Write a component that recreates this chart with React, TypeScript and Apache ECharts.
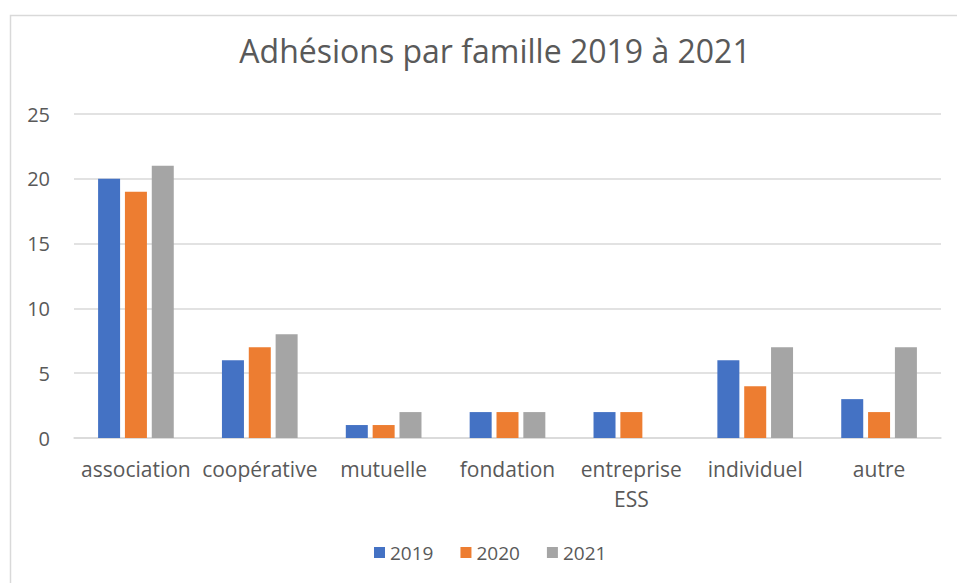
import React, { useEffect, useRef } from "react";
import * as echarts from "echarts";

const categories = ["association", "coopérative", "mutuelle", "fondation", "entreprise\nESS", "individuel", "autre"];
const seriesNames = ["2019", "2020", "2021"];
const values2019 = [20, 6, 1, 2, 2, 6, 3];
const values2020 = [19, 7, 1, 2, 2, 4, 2];
const values2021 = [21, 8, 2, 2, 0, 7, 7];
const colors = ["#4472C4", "#ED7D31", "#A5A5A5"];
const titleText = "Adhésions par famille 2019 à 2021";

export default function App() {
  const ref = useRef<HTMLDivElement>(null);
  useEffect(() => {
    if (!ref.current) return;
    const chart = echarts.init(ref.current, null, { renderer: "svg" });
    const font = "'Open Sans', 'Noto Sans', sans-serif";
    const data = [values2019, values2020, values2021];
    chart.setOption({
      animation: false,
      backgroundColor: "#ffffff",
      title: {
        text: titleText,
        left: 490,
        textAlign: "center",
        top: 29,
        textStyle: { fontFamily: font, fontSize: 32, fontWeight: "normal", color: "#595959" },
      },
      graphic: [
        {
          type: "rect",
          shape: { x: 10.5, y: 15.5, width: 960, height: 600 },
          style: { fill: "none", stroke: "#d9d9d9", lineWidth: 1.5 },
          silent: true,
        },
      ],
      legend: {
        top: 538,
        left: 369,
        itemWidth: 11,
        itemHeight: 11,
        itemGap: 27,
        icon: "rect",
        textStyle: { fontFamily: font, fontSize: 19, color: "#595959" },
        data: seriesNames,
      },
      grid: { left: 74, right: 16, top: 114, bottom: 145 },
      xAxis: {
        type: "category",
        data: categories,
        axisLine: { lineStyle: { color: "#d9d9d9", width: 1.5 } },
        axisTick: { show: false },
        axisLabel: { fontFamily: font, fontSize: 21, color: "#595959", margin: 16, lineHeight: 30, interval: 0 },
      },
      yAxis: {
        type: "value",
        min: 0,
        max: 25,
        interval: 5,
        axisLine: { show: false },
        axisTick: { show: false },
        splitLine: { lineStyle: { color: "#d9d9d9", width: 1.5 } },
        axisLabel: { fontFamily: font, fontSize: 20, color: "#595959", margin: 24 },
      },
      series: seriesNames.map((name, i) => ({
        name,
        type: "bar",
        data: data[i],
        barWidth: 22,
        barGap: "22%",
        itemStyle: { color: colors[i] },
      })),
    });
    return () => chart.dispose();
  }, []);
  return <div ref={ref} style={{ position: "fixed", left: 0, top: 0, width: 957, height: 583 }} />;
}
